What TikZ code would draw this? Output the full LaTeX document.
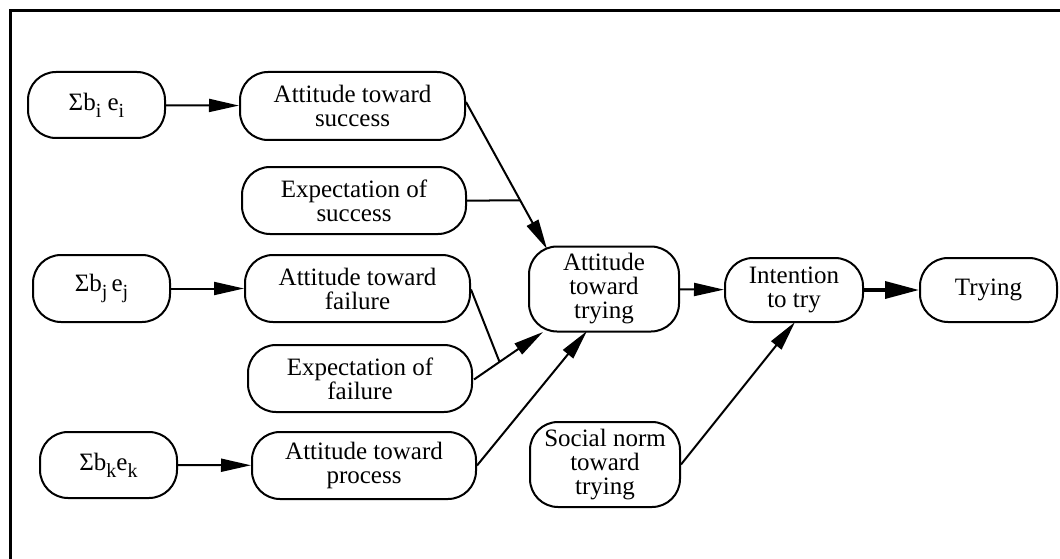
\documentclass[tikz,border=0pt]{standalone}
\usepackage{fontspec}
\setmainfont{Liberation Serif}
\usetikzlibrary{arrows.meta,calc}
\newcommand\subx[1]{\raisebox{-7pt}{\fontsize{20}{20}\selectfont #1}}
\begin{document}
\begin{tikzpicture}[x=1pt,y=-1pt,
  box/.style={draw,line width=2pt,rounded corners=28pt,inner sep=0pt,align=center,
    font=\fontsize{25}{24}\selectfont},
  conn/.style={line width=2pt},
  arr/.style={conn,-{Triangle[length=30pt,width=13pt]}},
  thickarr/.style={line width=3.5pt,-{Triangle[length=34pt,width=17pt]}}]
\useasboundingbox (0,0) rectangle (1060,559);
\fill[white] (0,0) rectangle (1060,559);
\draw[line width=3pt] (10,559) -- (10,11) -- (1060,11);

\node[box,minimum width=137pt,minimum height=66pt] (si) at (96.5,105) {Σb\subx{i} e\subx{i}};
\node[box,minimum width=225pt,minimum height=68pt] (as) at (352.5,106) {Attitude toward\\success};
\node[box,minimum width=224pt,minimum height=67pt] (es) at (354,200.5) {Expectation of\\success};
\node[box,minimum width=137pt,minimum height=67pt] (sj) at (101.5,288.5) {Σb\subx{j}\,e\subx{j}};
\node[box,minimum width=225pt,minimum height=67pt] (af) at (357.5,288.5) {Attitude toward\\failure};
\node[box,minimum width=224pt,minimum height=67pt] (ef) at (360,378.5) {Expectation of\\failure};
\node[box,minimum width=137pt,minimum height=66pt] (sk) at (108.5,465) {Σb\subx{k}e\subx{k}};
\node[box,minimum width=224pt,minimum height=67pt] (ap) at (364,465.5) {Attitude toward\\process};
\node[box,minimum width=150pt,minimum height=85pt] (at) at (604,289) {Attitude\\toward\\trying};
\node[box,minimum width=150pt,minimum height=85pt] (sn) at (605,464.5) {Social norm\\toward\\trying};
\node[box,minimum width=138pt,minimum height=64pt] (it) at (794,290) {Intention\\to try};
\node[box,minimum width=137pt,minimum height=64pt] (tr) at (988.5,290) {Trying};

% coordinates on node borders
\coordinate (asout) at ($(as.east)+(0,-4)$);
\coordinate (attl) at (547,249);
\coordinate (efout) at ($(ef.east)+(1,1)$);
\coordinate (atbl) at (543,332);
\coordinate (afout) at ($(af.east)+(0,1)$);
\coordinate (apout) at (ap.east);
\coordinate (atb) at (587,331);
\coordinate (snout) at (sn.east);
\coordinate (itb) at (795,322);
\coordinate (j1) at ($(asout)!{(200.5-102)/(249-102)}!(attl)$);
\coordinate (j2) at ($(efout)!0.37!(atbl)$);

\draw[arr] (si) -- (as);
\draw[arr] (sj) -- (af);
\draw[arr] (sk) -- (ap);
\draw[arr] (asout) -- (attl);
\draw[conn] (es.east) -- (j1);
\draw[arr] (efout) -- (atbl);
\draw[conn] (afout) -- (j2);
\draw[arr] (apout) -- (atb);
\draw[arr] (snout) -- (itb);
\draw[arr] (at) -- (it);
\draw[thickarr] (it) -- (tr);
\end{tikzpicture}
\end{document}
